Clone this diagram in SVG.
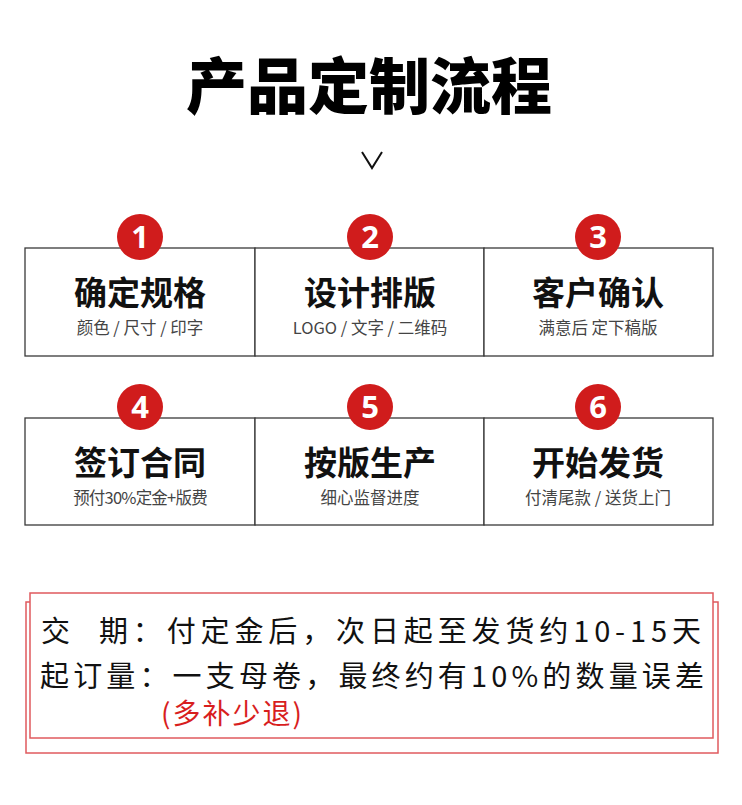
<svg xmlns="http://www.w3.org/2000/svg" width="742" height="805" viewBox="0 0 742 805">
<defs>
<style>
.t{font-family:"Noto Sans CJK SC","Noto Sans",sans-serif;}
.box{fill:#fff;stroke:#3a3a3a;stroke-width:1.3;}
.num{fill:#d01c1c;}
.numt{font-family:"Noto Sans","Noto Sans CJK SC",sans-serif;font-weight:700;font-size:31px;fill:#fff;text-anchor:middle;}
.tt{font-weight:700;font-size:33px;fill:#111;text-anchor:middle;}
.st{font-size:16.5px;fill:#444;text-anchor:middle;}
.red{fill:none;stroke:#e05a5e;stroke-width:1.5;}
.bt{font-size:29px;fill:#111;}
</style>
</defs>
<rect width="742" height="805" fill="#fff"/>
<text class="t" x="369" y="109" font-size="61" font-weight="900" text-anchor="middle" fill="#000">产品定制流程</text>
<polyline points="362,152 372,168 382,152" fill="none" stroke="#111" stroke-width="2"/>

<g id="connectors"></g>

<g id="step1"><rect class="box" x="25" y="248" width="230" height="108"/><circle class="num" cx="140" cy="237" r="23"/><text class="numt" x="140" y="248">1</text><text class="t tt" x="140" y="305">确定规格</text><text class="t st" x="140" y="334">颜色 / 尺寸 / 印字</text></g>
<g id="step2"><rect class="box" x="255" y="248" width="229" height="108"/><circle class="num" cx="370" cy="237" r="23"/><text class="numt" x="370" y="248">2</text><text class="t tt" x="370" y="305">设计排版</text><text class="t st" x="370" y="334">LOGO / 文字 / 二维码</text></g>
<g id="step3"><rect class="box" x="484" y="248" width="229" height="108"/><circle class="num" cx="598" cy="237" r="23"/><text class="numt" x="598" y="248">3</text><text class="t tt" x="598" y="305">客户确认</text><text class="t st" x="598" y="334">满意后 定下稿版</text></g>
<g id="step4"><rect class="box" x="25" y="418" width="230" height="107"/><circle class="num" cx="140" cy="407" r="23"/><text class="numt" x="140" y="418">4</text><text class="t tt" x="140" y="475">签订合同</text><text class="t st" x="140" y="504" letter-spacing="-0.8">预付30%定金+版费</text></g>
<g id="step5"><rect class="box" x="255" y="418" width="229" height="107"/><circle class="num" cx="370" cy="407" r="23"/><text class="numt" x="370" y="418">5</text><text class="t tt" x="370" y="475">按版生产</text><text class="t st" x="370" y="504">细心监督进度</text></g>
<g id="step6"><rect class="box" x="484" y="418" width="229" height="107"/><circle class="num" cx="598" cy="407" r="23"/><text class="numt" x="598" y="418">6</text><text class="t tt" x="598" y="475">开始发货</text><text class="t st" x="598" y="504">付清尾款 / 送货上门</text></g>

<g id="notice">
<rect class="red" x="26" y="602" width="692" height="151"/>
<rect x="30" y="593" width="683" height="145" fill="#fff" stroke="#e05a5e" stroke-width="1.5"/>
<text class="t bt" x="41" y="642">交</text>
<text class="t bt" x="99" y="642" textLength="602" lengthAdjust="spacing">期：付定金后，次日起至发货约10-15天</text>
<text class="t bt" x="40" y="687" textLength="664" lengthAdjust="spacing">起订量：一支母卷，最终约有10%的数量误差</text>
<text class="t" x="161" y="724" font-size="28" fill="#d81e1e" letter-spacing="2">(多补少退)</text>
</g>
</svg>
